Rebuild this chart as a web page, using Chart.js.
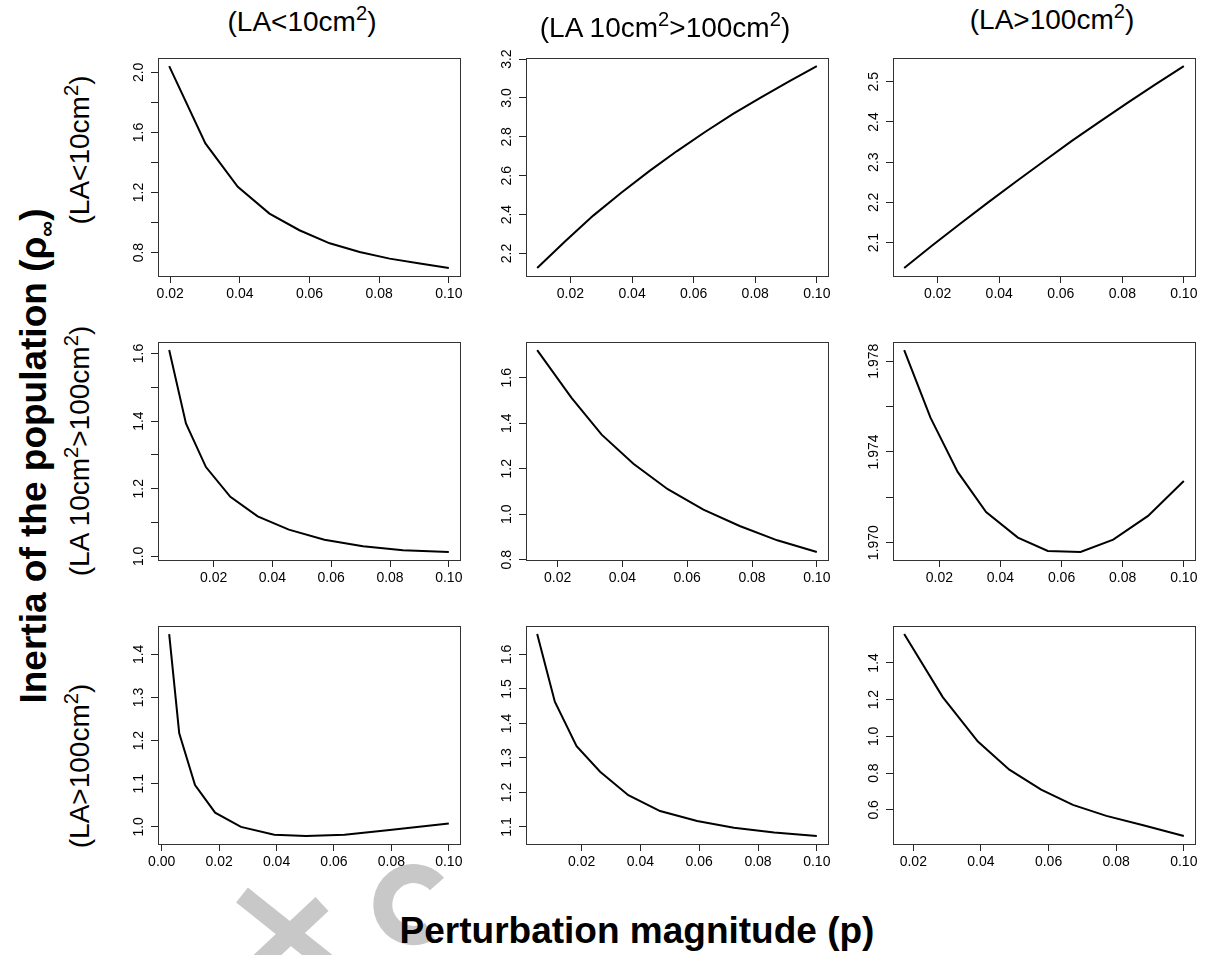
<!DOCTYPE html>
<html>
<head>
<meta charset="utf-8">
<script src="https://cdn.jsdelivr.net/npm/chart.js@4.4.1/dist/chart.umd.min.js"></script>
<style>
  html, body { margin: 0; padding: 0; background: #fff; }
  #fig { position: relative; width: 1213px; height: 955px; overflow: hidden;
         font-family: "Liberation Sans", Arial, Helvetica, sans-serif; color: #000; }
  #fig canvas { position: absolute; }
  .lbl { position: absolute; white-space: nowrap; line-height: 1; transform: translate(-50%, -50%); }
  .rot { transform: translate(-50%, -50%) rotate(-90deg); }
  .sup { font-size: 0.72em; position: relative; top: -0.55em; }
  .bold { font-weight: bold; }
  #mark { position: absolute; left: 0; top: 0; }
</style>
</head>
<body>
<div id="fig">
  <svg id="mark" width="1213" height="955">
    <g fill="none" stroke="#c8c8c8" stroke-width="19" stroke-linecap="butt">
      <line x1="242" y1="895" x2="326" y2="962"/>
      <line x1="322" y1="904" x2="260" y2="962"/>
      <path d="M 437 884 A 31 31 0 1 0 430 931"/>
    </g>
  </svg>
</div>
<script>
// Perturbation magnitude (p) and population inertia (rho_inf) for each panel.
// Rows: class receiving the perturbation; columns: class whose inertia is shown.
const pR1C1 = [0.0197, 0.0301, 0.0394, 0.0485, 0.0571, 0.0658, 0.0744, 0.0830, 0.0917, 0.1000];
const inertiaR1C1 = [2.042, 1.527, 1.238, 1.060, 0.949, 0.862, 0.804, 0.760, 0.727, 0.698];

const pR1C2 = [0.0092, 0.0183, 0.0274, 0.0365, 0.0456, 0.0546, 0.0637, 0.0728, 0.0819, 0.0910, 0.1000];
const inertiaR1C2 = [2.126, 2.263, 2.395, 2.513, 2.624, 2.727, 2.825, 2.918, 3.003, 3.085, 3.164];

const pR1C3 = [0.0091, 0.0182, 0.0273, 0.0364, 0.0455, 0.0546, 0.0636, 0.0727, 0.0818, 0.0909, 0.1000];
const inertiaR1C3 = [2.037, 2.093, 2.147, 2.200, 2.252, 2.303, 2.353, 2.401, 2.448, 2.494, 2.539];

const pR2C1 = [0.0049, 0.0106, 0.0174, 0.0257, 0.0350, 0.0456, 0.0577, 0.0708, 0.0844, 0.1000];
const inertiaR2C1 = [1.610, 1.393, 1.264, 1.176, 1.118, 1.079, 1.049, 1.030, 1.018, 1.013];

const pR2C2 = [0.0137, 0.0243, 0.0336, 0.0434, 0.0540, 0.0650, 0.0762, 0.0878, 0.1000];
const inertiaR2C2 = [1.722, 1.512, 1.350, 1.222, 1.110, 1.020, 0.948, 0.885, 0.834];

const pR2C3 = [0.0085, 0.0171, 0.0260, 0.0353, 0.0457, 0.0555, 0.0662, 0.0769, 0.0883, 0.1000];
const inertiaR2C3 = [1.97849, 1.97551, 1.97312, 1.97135, 1.97022, 1.96963, 1.96959, 1.97013, 1.97118, 1.97272];

const pR3C1 = [0.0026, 0.0061, 0.0116, 0.0186, 0.0276, 0.0392, 0.0503, 0.0637, 0.0794, 0.1000];
const inertiaR3C1 = [1.447, 1.217, 1.097, 1.033, 1.000, 0.982, 0.979, 0.982, 0.993, 1.008];

const pR3C2 = [0.0049, 0.0109, 0.0183, 0.0263, 0.0359, 0.0467, 0.0593, 0.0718, 0.0855, 0.1000];
const inertiaR3C2 = [1.659, 1.463, 1.334, 1.260, 1.192, 1.146, 1.117, 1.098, 1.084, 1.074];

const pR3C3 = [0.0173, 0.0287, 0.0391, 0.0484, 0.0578, 0.0672, 0.0771, 0.0880, 0.1000];
const inertiaR3C3 = [1.557, 1.214, 0.972, 0.819, 0.710, 0.627, 0.567, 0.516, 0.458];

// Tick positions and their printed labels ('' = tick mark without a label)
const pTicks = [0.02, 0.04, 0.06, 0.08, 0.10];
const pTickLabels = ['0.02', '0.04', '0.06', '0.08', '0.10'];
const pTicksFromZero = [0.00, 0.02, 0.04, 0.06, 0.08, 0.10];
const pTickLabelsFromZero = ['0.00', '0.02', '0.04', '0.06', '0.08', '0.10'];

const yTicksR1C1 = [0.8, 1.0, 1.2, 1.4, 1.6, 1.8, 2.0];
const yLabelsR1C1 = ['0.8', '', '1.2', '', '1.6', '', '2.0'];
const yTicksR1C2 = [2.2, 2.4, 2.6, 2.8, 3.0, 3.2];
const yLabelsR1C2 = ['2.2', '2.4', '2.6', '2.8', '3.0', '3.2'];
const yTicksR1C3 = [2.1, 2.2, 2.3, 2.4, 2.5];
const yLabelsR1C3 = ['2.1', '2.2', '2.3', '2.4', '2.5'];
const yTicksR2C1 = [1.0, 1.1, 1.2, 1.3, 1.4, 1.5, 1.6];
const yLabelsR2C1 = ['1.0', '', '1.2', '', '1.4', '', '1.6'];
const yTicksR2C2 = [0.8, 1.0, 1.2, 1.4, 1.6];
const yLabelsR2C2 = ['0.8', '1.0', '1.2', '1.4', '1.6'];
const yTicksR2C3 = [1.970, 1.972, 1.974, 1.976, 1.978];
const yLabelsR2C3 = ['1.970', '', '1.974', '', '1.978'];
const yTicksR3C1 = [1.0, 1.1, 1.2, 1.3, 1.4];
const yLabelsR3C1 = ['1.0', '1.1', '1.2', '1.3', '1.4'];
const yTicksR3C2 = [1.1, 1.2, 1.3, 1.4, 1.5, 1.6];
const yLabelsR3C2 = ['1.1', '1.2', '1.3', '1.4', '1.5', '1.6'];
const yTicksR3C3 = [0.6, 0.8, 1.0, 1.2, 1.4];
const yLabelsR3C3 = ['0.6', '0.8', '1.0', '1.2', '1.4'];

// Leaf-area size classes
const sizeClasses = ['(LA<10cm²)', '(LA 10cm²>100cm²)', '(LA>100cm²)'];
const xTitle = 'Perturbation magnitude (p)';
const yTitleMain = 'Inertia of the population (ρ';
const yTitleSub = '∞';

// ---------------------------------------------------------------------------
const FONT = '"Liberation Sans", Arial, Helvetica, sans-serif';
const TICK_SIZE = 14;
const colEdges = [[158, 460], [526, 828], [893, 1195]];
const rowEdges = [[58, 276], [342, 560], [626, 844]];
const PAD = { left: 60, top: 12, right: 24, bottom: 45 };

const fig = document.getElementById('fig');

// Replace the ² in a class label by a raised, smaller 2
function classHtml(s) {
  return s.replace(/²/g, '<span class="sup">2</span>');
}

function addLabel(html, x, y, size, opts = {}) {
  const d = document.createElement('div');
  d.className = 'lbl' + (opts.rot ? ' rot' : '') + (opts.bold ? ' bold' : '');
  d.style.left = x + 'px';
  d.style.top = y + 'px';
  d.style.fontSize = size + 'px';
  d.innerHTML = html;
  fig.appendChild(d);
}

// Plot frame (box around the plotting region)
const frameBox = {
  id: 'frameBox',
  afterDraw(chart) {
    const { ctx, chartArea: a } = chart;
    const l = Math.round(a.left) + 0.5, t = Math.round(a.top) + 0.5;
    const w = Math.round(a.right) - Math.round(a.left), h = Math.round(a.bottom) - Math.round(a.top);
    ctx.save();
    ctx.strokeStyle = '#333';
    ctx.lineWidth = 1;
    ctx.strokeRect(l, t, w, h);
    ctx.restore();
  }
};

// Y tick labels written parallel to the axis (rotated a quarter turn)
const rotatedYLabels = {
  id: 'rotatedYLabels',
  afterDraw(chart, args, opts) {
    const { ctx, chartArea: a } = chart;
    const y = chart.scales.y;
    ctx.save();
    ctx.font = TICK_SIZE + 'px ' + FONT;
    ctx.fillStyle = '#000';
    ctx.textAlign = 'center';
    ctx.textBaseline = 'middle';
    opts.values.forEach((v, i) => {
      const text = opts.labels[i];
      if (!text) return;
      ctx.save();
      ctx.translate(a.left - opts.offset, y.getPixelForValue(v));
      ctx.rotate(-Math.PI / 2);
      ctx.fillText(text, 0, 0);
      ctx.restore();
    });
    ctx.restore();
  }
};

function paddedRange(arr) {
  const lo = Math.min(...arr), hi = Math.max(...arr);
  const d = (hi - lo) * 0.04;
  return [lo - d, hi + d];
}

function labelFor(values, labels, v) {
  const i = values.findIndex(t => Math.abs(t - v) < 1e-9);
  return i >= 0 ? labels[i] : '';
}

function drawPanel(row, col, xs, ys, xTicks, xLabels, yTicks, yLabels) {
  const [L, R] = colEdges[col];
  const [T, B] = rowEdges[row];
  const cv = document.createElement('canvas');
  const W = (R - L) + PAD.left + PAD.right;
  const H = (B - T) + PAD.top + PAD.bottom;
  cv.width = W; cv.height = H;
  cv.style.left = (L - PAD.left) + 'px';
  cv.style.top = (T - PAD.top) + 'px';
  cv.style.width = W + 'px';
  cv.style.height = H + 'px';
  fig.appendChild(cv);

  const [xMin, xMax] = paddedRange(xs);
  const [yMin, yMax] = paddedRange(ys);

  new Chart(cv, {
    type: 'line',
    data: {
      datasets: [{
        data: xs.map((x, i) => ({ x, y: ys[i] })),
        borderColor: '#000',
        borderWidth: 2,
        pointRadius: 0,
        tension: 0,
        fill: false
      }]
    },
    options: {
      responsive: false,
      animation: false,
      devicePixelRatio: 1,
      events: [],
      layout: { autoPadding: false, padding: { left: 0, top: PAD.top, right: PAD.right, bottom: 0 } },
      plugins: {
        legend: { display: false },
        tooltip: { enabled: false },
        rotatedYLabels: { values: yTicks, labels: yLabels, offset: 19 }
      },
      scales: {
        x: {
          type: 'linear',
          min: xMin, max: xMax,
          afterBuildTicks: s => { s.ticks = xTicks.map(v => ({ value: v })); },
          afterFit: s => { s.height = PAD.bottom; },
          grid: { display: true, drawOnChartArea: false, drawTicks: true, tickLength: 7, tickColor: '#222', lineWidth: 1 },
          border: { display: false },
          ticks: {
            autoSkip: false, maxRotation: 0, minRotation: 0, padding: 3,
            color: '#000', font: { size: TICK_SIZE, family: FONT },
            callback: v => labelFor(xTicks, xLabels, v)
          }
        },
        y: {
          type: 'linear',
          min: yMin, max: yMax,
          afterBuildTicks: s => { s.ticks = yTicks.map(v => ({ value: v })); },
          afterFit: s => { s.width = PAD.left; },
          grid: { display: true, drawOnChartArea: false, drawTicks: true, tickLength: 7, tickColor: '#222', lineWidth: 1 },
          border: { display: false },
          ticks: { display: false }
        }
      }
    },
    plugins: [frameBox, rotatedYLabels]
  });
}

drawPanel(0, 0, pR1C1, inertiaR1C1, pTicks, pTickLabels, yTicksR1C1, yLabelsR1C1);
drawPanel(0, 1, pR1C2, inertiaR1C2, pTicks, pTickLabels, yTicksR1C2, yLabelsR1C2);
drawPanel(0, 2, pR1C3, inertiaR1C3, pTicks, pTickLabels, yTicksR1C3, yLabelsR1C3);
drawPanel(1, 0, pR2C1, inertiaR2C1, pTicks, pTickLabels, yTicksR2C1, yLabelsR2C1);
drawPanel(1, 1, pR2C2, inertiaR2C2, pTicks, pTickLabels, yTicksR2C2, yLabelsR2C2);
drawPanel(1, 2, pR2C3, inertiaR2C3, pTicks, pTickLabels, yTicksR2C3, yLabelsR2C3);
drawPanel(2, 0, pR3C1, inertiaR3C1, pTicksFromZero, pTickLabelsFromZero, yTicksR3C1, yLabelsR3C1);
drawPanel(2, 1, pR3C2, inertiaR3C2, pTicks, pTickLabels, yTicksR3C2, yLabelsR3C2);
drawPanel(2, 2, pR3C3, inertiaR3C3, pTicks, pTickLabels, yTicksR3C3, yLabelsR3C3);

// Column headings, row headings and the shared axis titles
addLabel(classHtml(sizeClasses[0]), 302, 22, 28);
addLabel(classHtml(sizeClasses[1]), 665, 28, 28);
addLabel(classHtml(sizeClasses[2]), 1052, 20, 28);
addLabel(classHtml(sizeClasses[0]), 80, 150, 28, { rot: true });
addLabel(classHtml(sizeClasses[1]), 80, 451, 28, { rot: true });
addLabel(classHtml(sizeClasses[2]), 80, 766, 28, { rot: true });
addLabel(yTitleMain + '<span style="font-size:0.6em;position:relative;top:0.35em">' + yTitleSub + '</span>)', 33, 456, 37, { rot: true, bold: true });
addLabel(xTitle, 637, 930, 37, { bold: true });
</script>
</body>
</html>
